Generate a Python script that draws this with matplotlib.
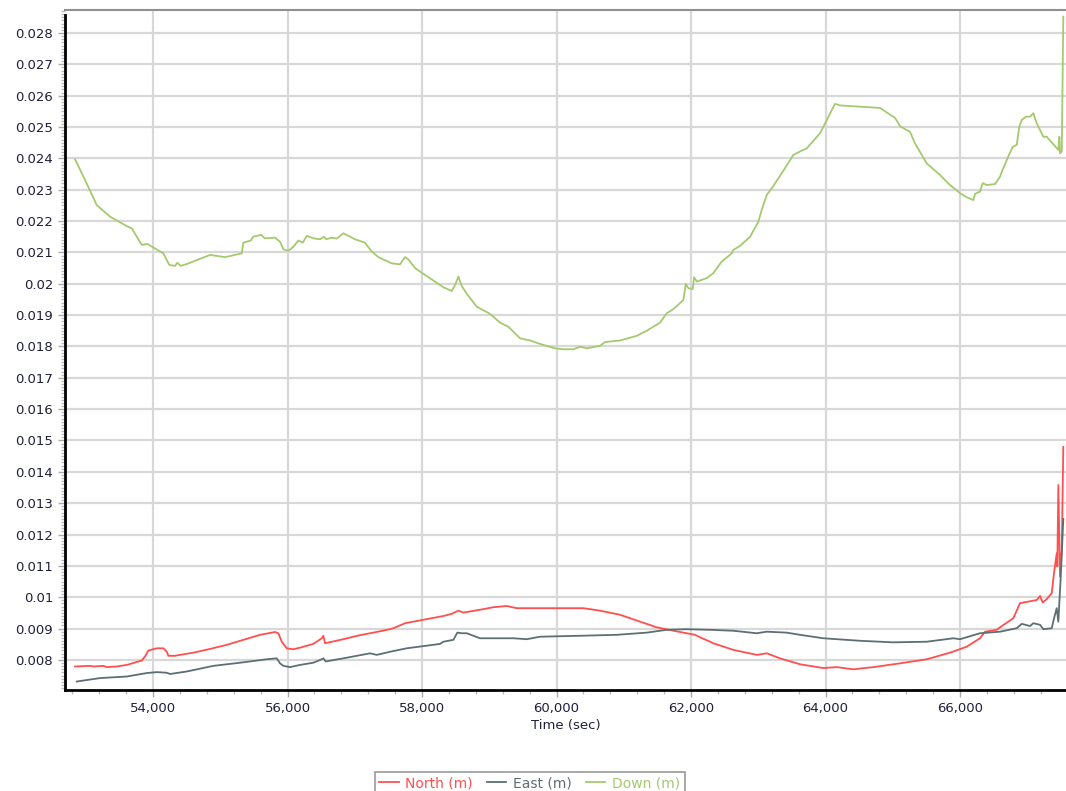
import matplotlib.pyplot as plt
from matplotlib.ticker import FuncFormatter, MultipleLocator

# Down (m)
down_t = [52840, 52989, 53163, 53361, 53609, 53683, 53832, 53915, 54153, 54242,
          54327, 54361, 54412, 54501, 54599, 54848, 55071, 55319, 55343, 55453,
          55491, 55606, 55665, 55814, 55888, 55938, 56012, 56086, 56161, 56226,
          56286, 56384, 56483, 56543, 56573, 56657, 56732, 56830, 57004, 57152,
          57242, 57350, 57549, 57673, 57747, 57796, 57896, 58045, 58317, 58442,
          58491, 58540, 58590, 58665, 58813, 59011, 59160, 59283, 59457, 59606,
          59755, 59978, 60102, 60250, 60350, 60449, 60647, 60721, 60944, 61193,
          61341, 61539, 61639, 61737, 61886, 61922, 61960, 62025, 62045, 62085,
          62234, 62332, 62457, 62606, 62630, 62729, 62878, 63001, 63052, 63126,
          63224, 63398, 63521, 63621, 63720, 63918, 64141, 64215, 64810, 65034,
          65108, 65208, 65256, 65330, 65505, 65703, 65851, 66000, 66099, 66198,
          66223, 66297, 66337, 66397, 66520, 66595, 66644, 66718, 66784, 66843,
          66882, 66918, 66982, 67041, 67090, 67141, 67215, 67239, 67289, 67462,
          67477, 67487, 67513, 67536]
down_v = [0.02397, 0.02331, 0.02251, 0.02214, 0.02184, 0.02177, 0.02124, 0.02127, 0.02097, 0.02060,
          0.02057, 0.02067, 0.02057, 0.02063, 0.02071, 0.02092, 0.02085, 0.02097, 0.02131, 0.02138,
          0.02150, 0.02156, 0.02145, 0.02147, 0.02134, 0.02110, 0.02105, 0.02118, 0.02138, 0.02131,
          0.02153, 0.02145, 0.02142, 0.02150, 0.02142, 0.02147, 0.02144, 0.02161, 0.02142, 0.02131,
          0.02105, 0.02085, 0.02065, 0.02062, 0.02085, 0.02078, 0.02050, 0.02028, 0.01989, 0.01977,
          0.01996, 0.02023, 0.01993, 0.01968, 0.01927, 0.01904, 0.01876, 0.01863, 0.01826, 0.01819,
          0.01808, 0.01794, 0.01791, 0.01791, 0.01799, 0.01794, 0.01802, 0.01814, 0.01819, 0.01834,
          0.01850, 0.01876, 0.01906, 0.01919, 0.01948, 0.01999, 0.01986, 0.01983, 0.02021, 0.02007,
          0.02018, 0.02034, 0.02071, 0.02097, 0.02108, 0.02121, 0.02150, 0.02198, 0.02236, 0.02283,
          0.02312, 0.02369, 0.02411, 0.02422, 0.02432, 0.02480, 0.02574, 0.02569, 0.02561, 0.02529,
          0.02503, 0.02490, 0.02485, 0.02448, 0.02384, 0.02347, 0.02315, 0.02289, 0.02276, 0.02267,
          0.02287, 0.02294, 0.02321, 0.02315, 0.02318, 0.02342, 0.02369, 0.02406, 0.02437, 0.02443,
          0.02501, 0.02523, 0.02533, 0.02533, 0.02544, 0.02512, 0.02480, 0.02469, 0.02469, 0.02427,
          0.02469, 0.02416, 0.02422, 0.02852]

# North (m)
north_t = [52840, 53063, 53112, 53261, 53312, 53460, 53609, 53832, 53881, 53930,
           54055, 54153, 54204, 54228, 54327, 54401, 54599, 54848, 55096, 55343,
           55591, 55814, 55863, 55914, 55988, 56086, 56186, 56384, 56509, 56532,
           56558, 56830, 57078, 57276, 57524, 57573, 57747, 58019, 58317, 58442,
           58540, 58614, 58862, 59060, 59260, 59408, 59854, 60399, 60647, 60944,
           61242, 61490, 61737, 61936, 62060, 62134, 62283, 62332, 62629, 62977,
           63126, 63323, 63621, 63968, 64167, 64414, 64712, 65108, 65505, 65851,
           66099, 66297, 66372, 66546, 66595, 66793, 66892, 67141, 67190, 67230,
           67289, 67364, 67398, 67438, 67447, 67462, 67487, 67513, 67536]
north_v = [0.00779, 0.00781, 0.00779, 0.00781, 0.00777, 0.00779, 0.00784, 0.00798, 0.00811, 0.00830,
           0.00837, 0.00837, 0.00826, 0.00813, 0.00813, 0.00816, 0.00823, 0.00835, 0.00848, 0.00864,
           0.00880, 0.00889, 0.00885, 0.00858, 0.00837, 0.00834, 0.00839, 0.00851, 0.00869, 0.00877,
           0.00853, 0.00866, 0.00879, 0.00887, 0.00898, 0.00901, 0.00917, 0.00928, 0.00940, 0.00947,
           0.00957, 0.00951, 0.00960, 0.00968, 0.00972, 0.00965, 0.00965, 0.00965, 0.00957, 0.00944,
           0.00922, 0.00904, 0.00893, 0.00885, 0.00880, 0.00872, 0.00858, 0.00853, 0.00832, 0.00816,
           0.00821, 0.00805, 0.00786, 0.00774, 0.00777, 0.00770, 0.00777, 0.00789, 0.00802, 0.00823,
           0.00842, 0.00869, 0.00890, 0.00896, 0.00904, 0.00933, 0.00981, 0.00991, 0.01004, 0.00983,
           0.00994, 0.01013, 0.01077, 0.01140, 0.01098, 0.01358, 0.01066, 0.01151, 0.01480]

# East (m)
east_t = [52865, 53212, 53609, 53906, 54055, 54204, 54253, 54501, 54897, 55294,
          55691, 55839, 55888, 55938, 56037, 56186, 56384, 56509, 56532, 56568,
          56830, 57227, 57327, 57524, 57772, 58268, 58317, 58466, 58525, 58590,
          58665, 58862, 59358, 59557, 59755, 60350, 60895, 61341, 61639, 61926,
          62283, 62629, 62977, 63126, 63423, 63621, 63968, 64513, 65008, 65505,
          65901, 66000, 66297, 66595, 66843, 66918, 67041, 67090, 67190, 67239,
          67364, 67398, 67438, 67462, 67498, 67536]
east_v = [0.00731, 0.00742, 0.00747, 0.00758, 0.00761, 0.00759, 0.00755, 0.00763, 0.00781, 0.00791,
          0.00802, 0.00805, 0.00789, 0.00781, 0.00777, 0.00784, 0.00791, 0.00802, 0.00805, 0.00795,
          0.00805, 0.00821, 0.00816, 0.00826, 0.00837, 0.00851, 0.00858, 0.00864, 0.00887, 0.00885,
          0.00885, 0.00869, 0.00869, 0.00866, 0.00874, 0.00877, 0.00880, 0.00887, 0.00896, 0.00898,
          0.00896, 0.00893, 0.00885, 0.00890, 0.00887, 0.00880, 0.00869, 0.00861, 0.00856, 0.00858,
          0.00869, 0.00866, 0.00885, 0.00890, 0.00901, 0.00915, 0.00908, 0.00917, 0.00912, 0.00898,
          0.00901, 0.00933, 0.00965, 0.00922, 0.01066, 0.01250]

tick_col = '#1f1f3a'

fig = plt.figure(figsize=(10.66, 7.91), dpi=100)
ax = fig.add_axes([0.061, 0.1277, 0.939, 0.8597])

ax.plot(north_t, north_v, color='#ff4f4f', lw=1.3, label='North (m)', zorder=3)
ax.plot(east_t, east_v, color='#5c6f72', lw=1.3, label='East (m)', zorder=3)
ax.plot(down_t, down_v, color='#a5c96f', lw=1.3, label='Down (m)', zorder=3)

ax.set_xlim(52691, 67576)
ax.set_ylim(0.00704, 0.028735)

ax.xaxis.set_minor_locator(MultipleLocator(400))
ax.yaxis.set_minor_locator(MultipleLocator(0.0001))
ax.set_xticks([t for t in range(54000, 67000, 2000)])
ax.set_yticks([i / 1000 for i in range(8, 29)])
ax.xaxis.set_major_formatter(FuncFormatter(lambda v, p: f"{int(round(v)):,}"))
ax.yaxis.set_major_formatter(FuncFormatter(lambda v, p: f"{round(v, 4):g}"))

ax.grid(True, which='major', color='#d8d8d8', lw=1.6, zorder=0)
ax.set_axisbelow(True)

ax.tick_params(axis='both', which='major', labelsize=9.5, labelcolor=tick_col,
               color='#aaaaaa', length=5, width=1)
ax.tick_params(axis='both', which='minor', color='#bbbbbb', length=3, width=1)

ax.spines['right'].set_visible(False)
ax.spines['top'].set_color('#909090')
ax.spines['top'].set_linewidth(1.5)
ax.spines['left'].set_color('black')
ax.spines['left'].set_linewidth(2)
ax.spines['left'].set_bounds(0.00704, 0.02858)
ax.spines['bottom'].set_color('black')
ax.spines['bottom'].set_linewidth(2)

ax.set_xlabel('Time (sec)', fontsize=9.5, color=tick_col, labelpad=3)

leg = fig.legend(loc='upper center', bbox_to_anchor=(0.497, 0.033), ncol=3,
                 fontsize=10, frameon=True, fancybox=False, handlelength=1.4,
                 handletextpad=0.5, columnspacing=1.0, borderpad=0.3)
leg.get_frame().set_edgecolor('#808080')
leg.get_frame().set_linewidth(1.2)
for txt, line in zip(leg.get_texts(), leg.get_lines()):
    txt.set_color(line.get_color())

fig.savefig('out.png', dpi=100)
